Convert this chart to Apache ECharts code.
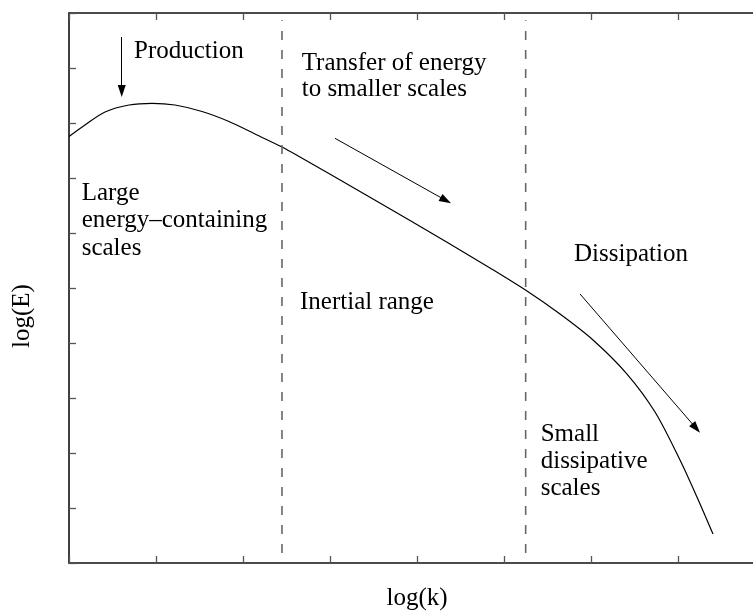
<!DOCTYPE html>
<html>
<head>
<meta charset="utf-8">
<script src="https://cdn.jsdelivr.net/npm/echarts@6/dist/echarts.min.js"></script>
<style>html,body{margin:0;padding:0;background:#fff}#c{width:753px;height:612px}</style>
</head>
<body>
<div id="c"></div>
<script>
// ---- data ----
var logK = [0, 0.184, 0.414, 0.69, 0.954, 1.218, 1.529, 1.839, 2.138, 2.448, 2.655, 3.057, 3.494, 3.92, 4.379, 4.839, 5.264, 5.644, 6.023, 6.414, 6.736, 7.023, 7.218, 7.402];
var logE = [7.755, 7.964, 8.2, 8.327, 8.358, 8.327, 8.209, 8.027, 7.8, 7.564, 7.382, 7.018, 6.618, 6.227, 5.8, 5.364, 4.945, 4.527, 4.055, 3.436, 2.745, 1.873, 1.2, 0.527];
var rangeBoundaries = [2.448, 5.249];
var dashSpan = [0.18, 9.87];
// arrows: [x0, y0, x1, y1] in data units
var arrows = [
  [0.606, 9.564, 0.606, 8.582],
  [3.057, 7.722, 4.331, 6.593],
  [5.874, 4.891, 7.208, 2.451]
];
var xRange = [0, 8];
var yRange = [0, 10];
// annotation texts: [text, x(px), baseline(px)]
var notes = [
  ['Production', 134, 59],
  ['Transfer of energy', 301.7, 70.8],
  ['to smaller scales', 301.7, 97.5],
  ['Large', 81.7, 201.5],
  ['energy\u2013containing', 81.7, 228.5],
  ['scales', 81.7, 256],
  ['Inertial range', 300, 310.3],
  ['Dissipation', 574, 262.5],
  ['Small', 540.7, 442.5],
  ['dissipative', 540.7, 469.5],
  ['scales', 540.7, 496]
];
var xName = 'log(k)';
var yName = 'log(E)';

var FS = 25;
var FONT = FS + 'px "Liberation Serif", "Times New Roman", serif';
var MID = 0.305 * FS;
var chart = echarts.init(document.getElementById('c'), null, {renderer: 'canvas'});

function axisBase(pos, rng) {
  return {
    type: 'value', position: pos, min: rng[0], max: rng[1], interval: 1,
    axisLine: {show: true, onZero: false, lineStyle: {color: '#111', width: 1.6}},
    axisTick: {show: true, inside: true, length: 7, lineStyle: {color: '#555', width: 1.3}},
    axisLabel: {show: false}, splitLine: {show: false}
  };
}

var curve = logK.map(function (k, i) { return [k, logE[i]]; });

var series = [{
  type: 'line', data: curve, smooth: 0.3, symbol: 'none',
  lineStyle: {color: '#000', width: 1.2}, silent: true,
  markLine: {
    silent: true, symbol: ['none', 'triangle'], symbolSize: [8, 12],
    lineStyle: {color: '#000', width: 1, type: 'solid'},
    label: {show: false}, emphasis: {disabled: true},
    data: arrows.map(function (a) { return [{coord: [a[0], a[1]]}, {coord: [a[2], a[3]]}]; })
  }
}];
rangeBoundaries.forEach(function (b) {
  series.push({
    type: 'line', symbol: 'none', silent: true,
    data: [[b, dashSpan[0]], [b, dashSpan[1]]],
    lineStyle: {color: '#666', width: 1.6, type: [9, 10]}
  });
});

var graphics = notes.map(function (n) {
  return {type: 'text', x: n[1], y: n[2] - MID, silent: true,
    style: {text: n[0], font: FONT, fill: '#000', align: 'left', verticalAlign: 'middle'}};
});
graphics.push({type: 'text', x: 417, y: 606 - MID, silent: true,
  style: {text: xName, font: FONT, fill: '#000', align: 'center', verticalAlign: 'middle'}});
graphics.push({type: 'text', x: 30 - MID, y: 316, rotation: Math.PI / 2, silent: true,
  style: {text: yName, font: FONT, fill: '#000', align: 'center', verticalAlign: 'middle'}});

chart.setOption({
  animation: false,
  backgroundColor: '#fff',
  grid: {left: 69, top: 13, right: -12, bottom: 49, containLabel: false, outerBoundsMode: 'none'},
  xAxis: [axisBase('bottom', xRange), axisBase('top', xRange)],
  yAxis: [axisBase('left', yRange), axisBase('right', yRange)],
  series: series,
  graphic: graphics
});
</script>
</body>
</html>
